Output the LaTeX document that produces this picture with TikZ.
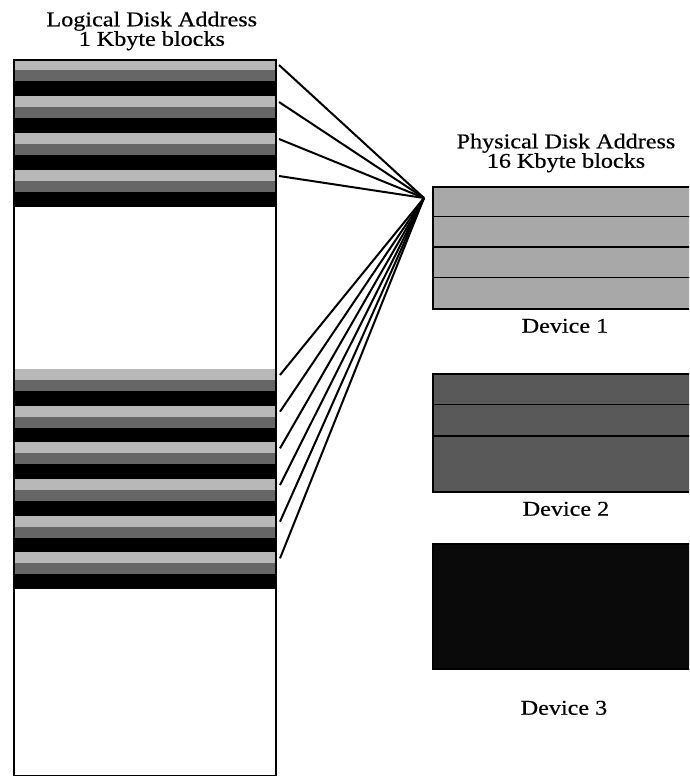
\documentclass[tikz,border=0pt]{standalone}
\usepackage{fontspec}
\setmainfont{Liberation Serif}[FakeStretch=1.15, FakeBold=0.5]
\usepackage{xcolor}
\usetikzlibrary{positioning}
\definecolor{lightdot}{gray}{0.72}
\definecolor{meddot}{gray}{0.40}
\definecolor{devone}{gray}{0.66}
\definecolor{devtwo}{gray}{0.35}
\definecolor{devthree}{gray}{0.04}

\begin{document}
\begin{tikzpicture}[x=1pt, y=-1pt, font=\fontsize{21}{19.5}\selectfont,
  lab/.style={align=center, inner sep=0pt},
  disk/.style={draw, line width=1.6pt, inner sep=0pt, anchor=north west, minimum width=262pt},
  devbox/.style={draw, line width=1.6pt, inner sep=0pt, anchor=north west, minimum width=265pt},
  rowline/.style={line width=1.5pt},
  link/.style={line width=2pt}]
\clip (0,0) rectangle (689,776);
\foreach \i in {0,...,3} {
  \fill[lightdot] (13,59+37*\i) rectangle ++(262,11);
  \fill[meddot] (13,70+37*\i) rectangle ++(262,11);
  \fill[black] (13,81+37*\i) rectangle ++(262,15);
  \coordinate (t\i) at (279,65+37*\i);
}
\foreach \i in {0,...,5} {
  \fill[lightdot] (13,369+36.67*\i) rectangle ++(262,11);
  \fill[meddot] (13,380+36.67*\i) rectangle ++(262,11);
  \fill[black] (13,391+36.67*\i) rectangle ++(262,14.67);
  \coordinate (b\i) at (280,375+36.67*\i);
}
\node[disk, minimum height=716pt] (logical) at (13,59) {};
\node[lab, above=8.5pt of logical, xshift=7pt] (loghead) {Logical Disk Address\\1 Kbyte blocks};
\coordinate (hub) at (424,198);
\node[devbox, fill=devone, minimum height=122pt] (dev1) at (432,186) {};
\node[devbox, fill=devtwo, minimum height=118pt] (dev2) at (432,373) {};
\node[devbox, fill=devthree, minimum height=125pt] (dev3) at (432,543) {};
\node[lab, above=13.5pt of dev1.north west, anchor=south, xshift=134pt] (physhead) {Physical Disk Address\\16 Kbyte blocks};
\node[lab, below=9pt of dev1.south west, anchor=north, xshift=133pt] (dev1lab) {Device 1};
\node[lab, below=9pt of dev2.south west, anchor=north, xshift=134pt] (dev2lab) {Device 2};
\node[lab, below=31pt of dev3.south west, anchor=north, xshift=132pt] (dev3lab) {Device 3};
\foreach \k in {1,2,3}
  \draw[rowline] ([yshift={-30.5pt*\k}]dev1.north west) -- ([yshift={-30.5pt*\k}]dev1.north east);
\foreach \k in {1,2}
  \draw[rowline] ([yshift={-31.5pt*\k}]dev2.north west) -- ([yshift={-31.5pt*\k}]dev2.north east);
\foreach \i in {0,...,3}
  \draw[link] (t\i) -- (hub);
\foreach \i in {0,...,5}
  \draw[link] (b\i) -- (hub);
\end{tikzpicture}
\end{document}
